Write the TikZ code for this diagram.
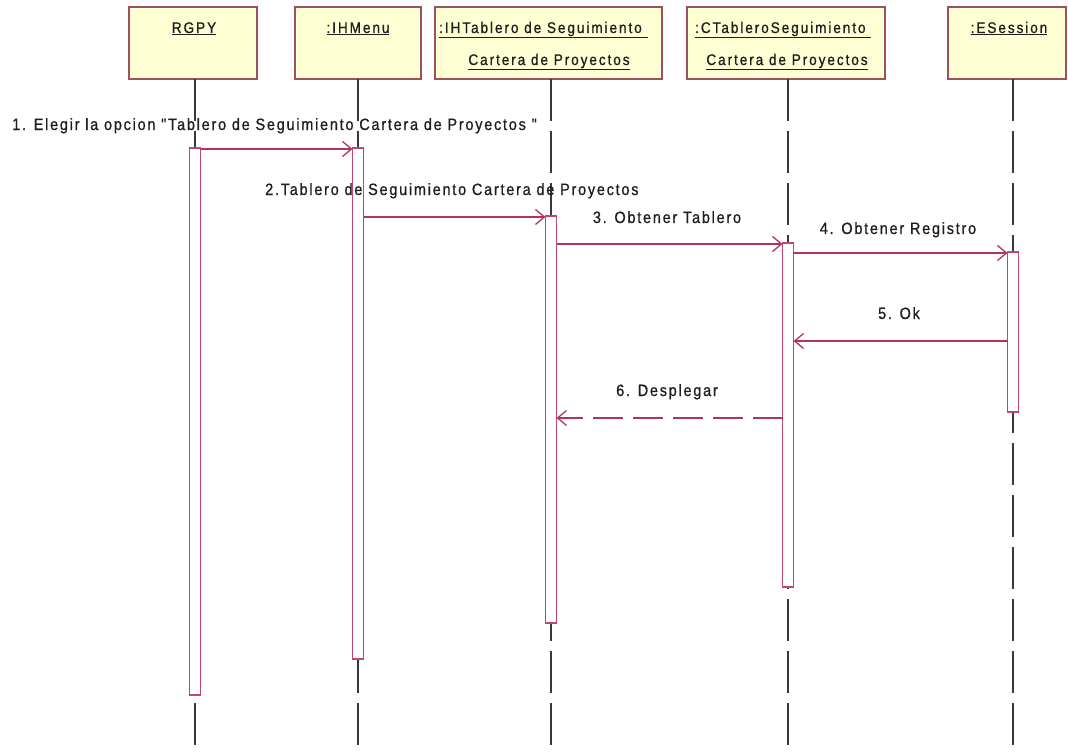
\documentclass[tikz,border=0pt]{standalone}
\usepackage{fontspec}
\setmainfont{Liberation Sans}
\newfontfamily\msgfont{Liberation Sans}[LetterSpace=10.7,FakeStretch=0.88,FakeBold=0.8]
\newfontfamily\hdrfont{Liberation Sans}[LetterSpace=12.5,FakeStretch=0.88,FakeBold=0.8]
\usetikzlibrary{arrows.meta,calc}
\definecolor{hdrfill}{HTML}{FFFFD4}
\definecolor{hdrline}{HTML}{A0505C}
\definecolor{msgcol}{HTML}{B03462}
\definecolor{actline}{HTML}{C0486A}
\definecolor{lifecol}{HTML}{383838}
\definecolor{txtcol}{HTML}{1E1E1E}
\begin{document}
\begin{tikzpicture}[x=1bp,y=-1bp,
 hdr/.style={draw=hdrline,fill=hdrfill,line width=2bp,minimum height=72bp,inner sep=0,outer sep=0},
 htxt/.style={font=\hdrfont\fontsize{15.5}{17}\selectfont,text=txtcol,anchor=base,inner sep=0},
 mtxt/.style={font=\msgfont\fontsize{16.5}{19}\selectfont,text=txtcol,anchor=base,inner sep=0},
 life/.style={draw=lifecol,line width=1.5bp,dash pattern=on 42bp off 10bp},
 act/.style={draw=actline,fill=white,line width=1.4bp,minimum width=11bp,inner sep=0,outer sep=0,anchor=north},
 msg/.style={draw=msgcol,line width=1.8bp,-{Straight Barb[length=9bp,width=15bp,line width=1.3bp]}},
 ret/.style={msg,dash pattern=on 30bp off 10bp}]
\useasboundingbox (0,0) rectangle (1068,754);
% headers
\node[hdr,minimum width=128bp] (hR) at (193,43) {};
\node[hdr,minimum width=126bp] (hM) at (358,43) {};
\node[hdr,minimum width=227bp] (hT) at (548.5,43) {};
\node[hdr,minimum width=198bp] (hC) at (786,43) {};
\node[hdr,minimum width=118bp] (hE) at (1007,43) {};
\node[htxt] (nR) at (194,33) {\underline{RGPY}};
\node[htxt] (nM) at (358,33) {\underline{:IHMenu}};
\node[htxt,anchor=base west] (nT1) at (439,33) {\underline{:IHTablero de Seguimiento\ }};
\node[htxt] (nT2) at (549,65) {\underline{Cartera de Proyectos}};
\node[htxt,anchor=base west] (nC1) at (695,33) {\underline{:CTableroSeguimiento\ }};
\node[htxt] (nC2) at (787,65) {\underline{Cartera de Proyectos}};
\node[htxt] (nE) at (1009,33) {\underline{:ESession}};
% lifelines
\coordinate (eR) at (195,754);
\coordinate (eM) at (358,754);
\coordinate (eT) at (551,754);
\coordinate (eC) at (788,754);
\coordinate (eE) at (1013,754);
\draw[life] (eR |- hR.south) -- (eR);
\draw[life] (eM |- hM.south) -- (eM);
\draw[life] (eT |- hT.south) -- (eT);
\draw[life] (eC |- hC.south) -- (eC);
\draw[life] (eE |- hE.south) -- (eE);
% activations
\node[act,minimum height=547bp] (aR) at (195,148) {};
\node[act,minimum height=511bp] (aM) at (358,148) {};
\node[act,minimum height=407bp] (aT) at (551,216) {};
\node[act,minimum height=344bp] (aC) at (788,243) {};
\node[act,minimum height=160bp] (aE) at (1013,252) {};
% message levels
\coordinate (m1) at (0,149);
\coordinate (m2) at (0,217);
\coordinate (m3) at (0,244);
\coordinate (m4) at (0,253);
\coordinate (m5) at (0,341);
\coordinate (m6) at (0,418);
\draw[msg] (aR.east |- m1) -- (aM.west |- m1);
\draw[msg] (aM.east |- m2) -- (aT.west |- m2);
\draw[msg] (aT.east |- m3) -- (aC.west |- m3);
\draw[msg] (aC.east |- m4) -- (aE.west |- m4);
\draw[msg] (aE.west |- m5) -- (aC.east |- m5);
\draw[ret] (aC.west |- m6) -- (aT.east |- m6);
% labels
\node[mtxt,anchor=base west] (t1) at (12,130) {1. Elegir la opcion "Tablero de Seguimiento Cartera de Proyectos "};
\node[mtxt,anchor=base west] (t2) at (265,195) {2.Tablero de Seguimiento Cartera de Proyectos};
\node[mtxt] (t3) at (667,223) {3. Obtener Tablero};
\node[mtxt] (t4) at (898,234) {4. Obtener Registro};
\node[mtxt] (t5) at (899,319) {5. Ok};
\node[mtxt] (t6) at (667,396) {6. Desplegar};
\end{tikzpicture}
\end{document}
